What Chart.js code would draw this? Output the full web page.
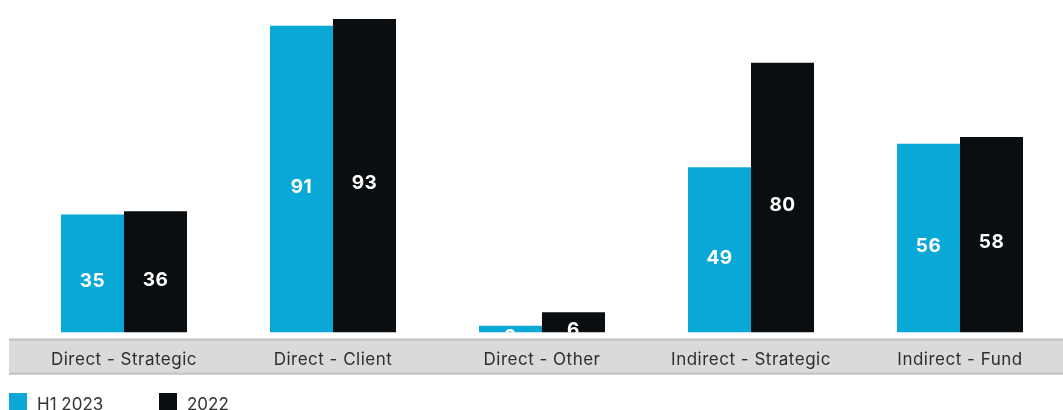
<!DOCTYPE html>
<html lang="en">
<head>
    <meta charset="UTF-8">
    <title>Investments by type</title>
    <script src="https://cdn.jsdelivr.net/npm/chart.js"></script>
    <style>
        html, body { margin: 0; padding: 0; background: #fff; overflow: hidden; }
        #wrap { width: 1065px; height: 410px; }
    </style>
</head>
<body>
    <div id="wrap"><canvas id="myChart"></canvas></div>
    <script>
        // categories and series
        const categories = ["Direct - Strategic", "Direct - Client", "Direct - Other", "Indirect - Strategic", "Indirect - Fund"];
        const h12023 = [35, 91, 2, 49, 56];
        const y2022 = [36, 93, 6, 80, 58];
        const seriesNames = ["H1 2023", "2022"];
        const seriesColors = ["#0aa8d7", "#0b0e11"];
        const yMax = 98.6;

        const FONT = "Inter, 'Noto Sans', sans-serif";

        // grey band behind the category labels
        const bandPlugin = {
            id: 'band',
            beforeDraw(chart) {
                const ctx = chart.ctx;
                ctx.letterSpacing = "0.5px";
                const top = chart.chartArea.bottom + 6;
                const h = 36;
                ctx.save();
                ctx.fillStyle = "#d9dadc";
                ctx.fillRect(9, top, chart.width - 9, h);
                ctx.fillStyle = "#c3c4c6";
                ctx.fillRect(9, top, chart.width - 9, 2);
                ctx.fillRect(9, top + h - 2, chart.width - 9, 2);
                ctx.restore();
            }
        };

        // value written inside each bar, a bit below the middle
        const valuePlugin = {
            id: 'values',
            afterDatasetsDraw(chart) {
                const ctx = chart.ctx;
                const a = chart.chartArea;
                ctx.save();
                ctx.beginPath();
                ctx.rect(a.left - 20, a.top, a.right - a.left + 40, a.bottom - a.top);
                ctx.clip();
                ctx.font = "bold 19px " + FONT;
                ctx.fillStyle = "#ffffff";
                ctx.textAlign = "center";
                ctx.textBaseline = "middle";
                chart.data.datasets.forEach((ds, i) => {
                    chart.getDatasetMeta(i).data.forEach((bar, j) => {
                        const y = (bar.y + bar.base) / 2 + 8;
                        ctx.fillText(String(ds.data[j]), bar.x, y);
                    });
                });
                ctx.restore();
            }
        };

        // legend in the bottom left corner
        const legendPlugin = {
            id: 'bottomLegend',
            afterDraw(chart) {
                const ctx = chart.ctx;
                const xs = [9, 159];
                ctx.save();
                ctx.letterSpacing = "0px";
                ctx.font = "17px " + FONT;
                ctx.textBaseline = "alphabetic";
                ctx.textAlign = "left";
                chart.data.datasets.forEach((ds, i) => {
                    ctx.fillStyle = ds.backgroundColor;
                    ctx.fillRect(xs[i], 393, 18, 18);
                    ctx.fillStyle = "#333333";
                    ctx.fillText(ds.label, xs[i] + 28, 410);
                });
                ctx.restore();
            }
        };

        const ctx = document.getElementById("myChart");
        new Chart(ctx, {
            type: 'bar',
            data: {
                labels: categories,
                datasets: [
                    { label: seriesNames[0], data: h12023, backgroundColor: seriesColors[0] },
                    { label: seriesNames[1], data: y2022, backgroundColor: seriesColors[1] }
                ]
            },
            options: {
                responsive: true,
                maintainAspectRatio: false,
                animation: false,
                devicePixelRatio: 1,
                categoryPercentage: 126 / 209,
                barPercentage: 1.0,
                layout: { padding: { left: 19.5, right: 0.5, top: 0, bottom: 23 } },
                plugins: {
                    legend: { display: false },
                    tooltip: { enabled: false }
                },
                scales: {
                    x: {
                        grid: { display: false, drawTicks: false },
                        border: { display: false },
                        ticks: {
                            padding: 17,
                            color: "#2e2e2e",
                            font: { family: FONT, size: 17 },
                            maxRotation: 0
                        }
                    },
                    y: {
                        display: false,
                        min: 0,
                        max: yMax
                    }
                }
            },
            plugins: [bandPlugin, valuePlugin, legendPlugin]
        });
    </script>
</body>
</html>
